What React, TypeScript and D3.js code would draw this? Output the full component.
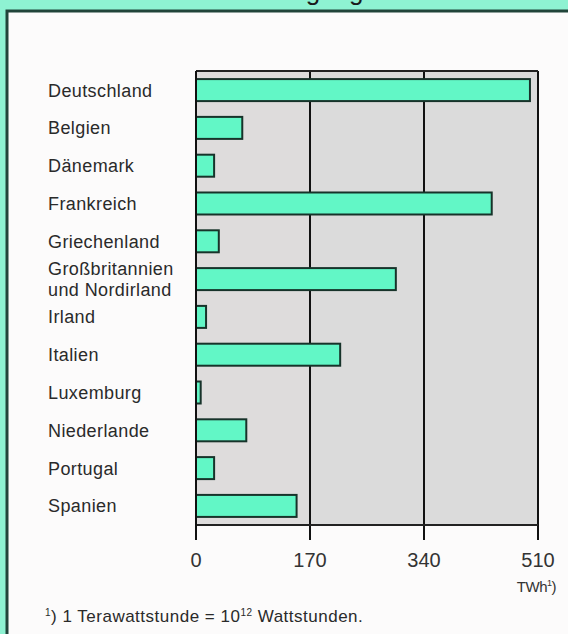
import React from 'react';
import * as d3 from 'd3';

const countries = [
  'Deutschland',
  'Belgien',
  'Dänemark',
  'Frankreich',
  'Griechenland',
  'Großbritannien\nund Nordirland',
  'Irland',
  'Italien',
  'Luxemburg',
  'Niederlande',
  'Portugal',
  'Spanien',
];
const values = [498, 69, 27, 441, 34, 298, 15, 215, 7, 75, 27, 150];
const tickValues = [0, 170, 340, 510];
const unitLabel = 'TWh';
const titleText = 'Stromerzeugung 1995';

const W = 568;
const H = 634;
const plotLeft = 196;
const plotRight = 538;
const plotTop = 71;
const plotBottom = 525;

const FONT = "'Liberation Sans', Arial, Helvetica, sans-serif";

export default function App() {
  const x = d3.scaleLinear().domain([0, 510]).range([plotLeft, plotRight]);
  const y = d3
    .scaleBand<string>()
    .domain(countries)
    .range([plotTop, plotBottom])
    .paddingInner(0.418)
    .paddingOuter(0.214);

  return (
    <svg
      width={W}
      height={H}
      viewBox={`0 0 ${W} ${H}`}
      style={{ position: 'absolute', left: 0, top: 0, display: 'block' }}
      fontFamily={FONT}
    >
      {/* outer mint background */}
      <rect x={0} y={0} width={W} height={H} fill="#8ef2d2" />
      {/* clipped title */}
      <text x={300} y={0} textAnchor="middle" fontSize={26} fill="#1a1a1a">
        {titleText}
      </text>
      {/* white panel */}
      <rect x={7} y={11} width={W + 20} height={H + 20} fill="#fcfbfb" stroke="#21443a" strokeWidth={3} />

      {/* plot background */}
      <rect x={plotLeft} y={plotTop} width={plotRight - plotLeft} height={plotBottom - plotTop} fill="#dbdbdb" />
      <rect x={plotLeft} y={plotTop} width={x(170) - plotLeft} height={plotBottom - plotTop} fill="#dedcdc" />

      {/* grid lines */}
      {tickValues.map((t) => (
        <line key={'g' + t} x1={x(t)} x2={x(t)} y1={plotTop} y2={plotBottom + 15} stroke="#111" strokeWidth={2} />
      ))}
      <line x1={plotLeft} x2={plotRight} y1={plotTop} y2={plotTop} stroke="#222" strokeWidth={2} />
      <line x1={plotLeft} x2={plotRight} y1={plotBottom} y2={plotBottom} stroke="#222" strokeWidth={2} />

      {/* bars */}
      {countries.map((c, i) => (
        <rect
          key={c}
          x={x(0)}
          y={y(c)!}
          width={x(values[i]) - x(0)}
          height={y.bandwidth()}
          fill="#62f7c6"
          stroke="#17332a"
          strokeWidth={2}
        />
      ))}
      <line x1={plotLeft} x2={plotLeft} y1={plotTop} y2={plotBottom + 15} stroke="#111" strokeWidth={2} />

      {/* category labels */}
      {countries.map((c) => {
        const lines = c.split('\n');
        const cy = y(c)! + y.bandwidth() / 2;
        const lh = 21;
        const first = cy + 6.5 - ((lines.length - 1) * lh) / 2;
        return (
          <text key={'l' + c} x={48} fontSize={18} fill="#2a2a2a" letterSpacing={0.4}>
            {lines.map((ln, k) => (
              <tspan key={k} x={48} y={first + k * lh}>
                {ln}
              </tspan>
            ))}
          </text>
        );
      })}

      {/* tick labels */}
      {tickValues.map((t) => (
        <text key={'t' + t} x={x(t)} y={567} textAnchor="middle" fontSize={20} fill="#333">
          {t}
        </text>
      ))}
      <text x={556} y={592} textAnchor="end" fontSize={15} fill="#333" letterSpacing={-0.5}>
        {unitLabel}
        <tspan fontSize={9} dy={-6}>1</tspan>
        <tspan dy={6}>)</tspan>
      </text>

      {/* footnote */}
      <text x={45} y={622} fontSize={17} fill="#2a2a2a" letterSpacing={0.5}>
        <tspan fontSize={10} dy={-6}>1</tspan>
        <tspan dy={6}>) 1 Terawattstunde = 10</tspan>
        <tspan fontSize={10} dy={-6}>12</tspan>
        <tspan dy={6}> Wattstunden.</tspan>
      </text>
    </svg>
  );
}
